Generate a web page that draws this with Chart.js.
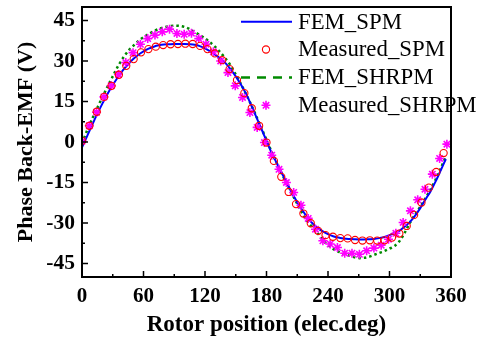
<!DOCTYPE html>
<html>
<head>
<meta charset="utf-8">
<script src="https://cdn.jsdelivr.net/npm/chart.js@4/dist/chart.umd.min.js"></script>
<style>
  html, body { margin: 0; padding: 0; background: #fff; }
  #wrap { width: 485px; height: 341px; position: relative; }
</style>
</head>
<body>
<div id="wrap"><canvas id="c" width="485" height="341"></canvas></div>
<script>
// ---- Data ----
const seriesNames = ['FEM_SPM', 'Measured_SPM', 'FEM_SHRPM', 'Measured_SHRPM'];

const femAngles = [0,5,10,15,20,25,30,35,40,45,50,55,60,65,70,75,80,85,90,95,100,105,110,115,120,125,130,135,140,145,150,155,160,165,170,175,180,185,190,195,200,205,210,215,220,225,230,235,240,245,250,255,260,265,270,275,280,285,290,295,300,305,310,315,320,325,330,335,340,345,350,355];

const femSPM = [-2.0,2.2,6.4,10.5,14.3,17.9,21.1,24.0,26.6,28.8,30.7,32.3,33.6,34.6,35.3,35.8,36.1,36.2,36.3,36.3,36.3,36.2,36.0,35.5,34.7,33.6,32.3,30.9,29.2,26.9,24.3,21.3,17.9,13.7,9.3,4.9,0.4,-4.0,-7.8,-11.6,-15.3,-19.0,-22.3,-25.3,-28.0,-30.2,-31.9,-33.1,-34.1,-34.9,-35.4,-35.7,-35.9,-36.0,-36.1,-36.1,-36.0,-35.9,-35.6,-35.2,-34.5,-33.7,-32.8,-31.3,-29.6,-27.3,-24.5,-21.3,-18.3,-14.6,-10.5,-6.3];

const femSHRPM = [-0.5,4.3,8.6,12.7,16.7,20.6,24.3,28.0,31.1,33.7,35.6,37.4,38.8,40.0,41.0,41.9,42.5,42.9,43.1,43.0,42.6,41.8,40.7,39.6,38.4,36.9,35.2,33.2,30.9,28.3,25.0,21.5,17.8,13.8,9.6,5.2,0.8,-3.6,-7.8,-11.8,-15.6,-19.3,-22.9,-26.4,-29.4,-31.7,-33.8,-36.4,-38.2,-39.6,-40.6,-41.4,-42.0,-42.6,-43.0,-42.9,-42.5,-41.8,-41.1,-40.4,-39.5,-38.5,-36.6,-33.5,-29.9,-26.8,-24.0,-20.9,-17.6,-13.9,-9.8,-5.2];

const measSPMAngles = [0,7.2,14.4,21.6,28.8,36,43.2,50.4,57.6,64.8,72,79.2,86.4,93.6,100.8,108,115.2,122.4,129.6,136.8,144,151.2,158.4,165.6,172.8,180,187.2,194.4,201.6,208.8,216,223.2,230.4,237.6,244.8,252,259.2,266.4,273.6,280.8,288,295.2,302.4,309.6,316.8,324,331.2,338.4,345.6,352.8];

const measSPM = [0.4,6.0,11.2,16.7,20.8,24.9,28.2,30.7,33.2,34.4,35.3,35.9,36.2,36.3,36.4,36.3,35.6,34.4,32.8,30.3,27.0,22.9,18.1,12.5,6.0,-0.2,-7.0,-12.9,-18.5,-23.0,-26.5,-30.1,-32.9,-34.5,-35.1,-35.6,-35.7,-36.3,-36.5,-36.4,-36.5,-36.4,-35.4,-33.9,-31.1,-27.0,-22.4,-16.9,-11.1,-4.1];

const measSHRPMAngles = [0,7.1,14.2,21.4,28.5,35.6,42.7,49.8,57,64.1,71.2,78.3,85.4,92.6,99.7,106.8,113.9,121,128.2,135.3,142.4,149.5,156.6,163.8,170.9,178,185.1,192.2,199.4,206.5,213.6,220.7,227.8,235,242.1,249.2,256.3,263.4,270.6,277.7,284.8,291.9,299,306.2,313.3,320.4,327.5,334.6,341.8,348.9,356];

const measSHRPM = [0.3,6.0,11.0,16.7,20.8,25.0,29.4,33.1,36.2,38.3,39.6,40.8,41.8,40.2,39.9,40.3,38.3,36.2,33.4,30.0,25.7,20.8,16.5,10.9,5.4,-0.2,-4.9,-10.1,-15.0,-18.7,-23.4,-28.3,-32.3,-36.6,-37.8,-39.1,-41.2,-41.2,-41.6,-40.3,-39.3,-38.2,-36.0,-33.8,-29.8,-25.5,-21.4,-17.5,-11.9,-6.1,-0.8];

const xTickValues = [0, 60, 120, 180, 240, 300, 360];
const yTickValues = [-45, -30, -15, 0, 15, 30, 45];
const xMinorValues = [30, 90, 150, 210, 270, 330];
const yMinorValues = [-37.5, -22.5, -7.5, 7.5, 22.5, 37.5];

const xTitle = 'Rotor position (elec.deg)';
const yTitle = 'Phase Back-EMF (V)';

// ---- Helpers ----
const pts = (xs, ys) => xs.map((x, i) => ({ x: x, y: ys[i] }));
const SERIF = '"Liberation Serif", "Times New Roman", serif';

const colors = {
  blue: '#0000ff',
  red: '#ff0000',
  green: '#008a00',
  magenta: '#ff00ff'
};

const frameTicks = {
  id: 'frameTicks',
  afterDatasetsDraw(chart) {
    const { ctx, chartArea: a, scales: { x, y } } = chart;
    ctx.save();
    ctx.strokeStyle = '#000';
    ctx.lineWidth = 1.5;
    ctx.beginPath();
    xTickValues.forEach(v => { const p = x.getPixelForValue(v); ctx.moveTo(p, a.bottom); ctx.lineTo(p, a.bottom - 6); });
    xMinorValues.forEach(v => { const p = x.getPixelForValue(v); ctx.moveTo(p, a.bottom); ctx.lineTo(p, a.bottom - 3); });
    yTickValues.forEach(v => { const p = y.getPixelForValue(v); ctx.moveTo(a.left, p); ctx.lineTo(a.left + 6, p); });
    yMinorValues.forEach(v => { const p = y.getPixelForValue(v); ctx.moveTo(a.left, p); ctx.lineTo(a.left + 3, p); });
    ctx.stroke();
    ctx.lineWidth = 2;
    ctx.strokeRect(a.left, a.top, a.right - a.left, a.bottom - a.top);
    ctx.restore();
  }
};

const customLegend = {
  id: 'customLegend',
  afterDraw(chart) {
    const ctx = chart.ctx;
    const ds = chart.data.datasets;
    const x0 = 241, x1 = 292, xText = 298, mx = 266;
    const rowY = [21.7, 49.5, 77.4, 105.3];
    ctx.save();
    ctx.font = '22.8px ' + SERIF;
    ctx.fillStyle = '#000';
    ctx.textBaseline = 'middle';
    ds.forEach((d, i) => {
      const yy = rowY[i];
      ctx.save();
      ctx.strokeStyle = d.borderColor;
      if (d.showLine !== false) {
        ctx.lineWidth = d.borderWidth;
        ctx.setLineDash(i === 2 ? [9, 7] : []);
        ctx.beginPath(); ctx.moveTo(x0, yy); ctx.lineTo(x1, yy); ctx.stroke();
      } else if (d.pointStyle === 'circle') {
        ctx.lineWidth = d.pointBorderWidth;
        ctx.beginPath(); ctx.arc(mx, yy, d.pointRadius, 0, Math.PI * 2); ctx.stroke();
      } else {
        ctx.lineWidth = d.pointBorderWidth;
        const r = d.pointRadius;
        ctx.beginPath();
        for (let k = 0; k < 4; k++) {
          const ang = k * Math.PI / 4;
          ctx.moveTo(mx - r * Math.cos(ang), yy - r * Math.sin(ang));
          ctx.lineTo(mx + r * Math.cos(ang), yy + r * Math.sin(ang));
        }
        ctx.stroke();
      }
      ctx.restore();
      ctx.fillText(d.label, xText, yy + 1);
    });
    ctx.restore();
  }
};

new Chart(document.getElementById('c'), {
  type: 'line',
  data: {
    datasets: [
      { label: seriesNames[0], data: pts(femAngles, femSPM), borderColor: colors.blue, borderWidth: 2, pointRadius: 0, tension: 0.3, order: 3 },
      { label: seriesNames[1], data: pts(measSPMAngles, measSPM), showLine: false, pointStyle: 'circle', pointRadius: 3.6, pointBorderWidth: 1.1, borderColor: colors.red, pointBorderColor: colors.red, pointBackgroundColor: 'rgba(0,0,0,0)', order: 1 },
      { label: seriesNames[2], data: pts(femAngles, femSHRPM), borderColor: colors.green, borderWidth: 2.5, borderDash: [2.5, 3], pointRadius: 0, tension: 0.3, order: 4 },
      { label: seriesNames[3], data: pts(measSHRPMAngles, measSHRPM), showLine: false, pointStyle: 'star', pointRadius: 4.5, pointBorderWidth: 1.6, borderColor: colors.magenta, pointBorderColor: colors.magenta, pointBackgroundColor: colors.magenta, order: 2 }
    ]
  },
  options: {
    responsive: false,
    animation: false,
    devicePixelRatio: 1,
    layout: { padding: { top: 7, right: 34, left: 0, bottom: 0 } },
    plugins: { legend: { display: false }, tooltip: { enabled: false } },
    scales: {
      x: {
        type: 'linear', min: 0, max: 360,
        grid: { display: false, drawTicks: false },
        border: { display: false },
        afterBuildTicks: s => { s.ticks = xTickValues.map(v => ({ value: v })); },
        afterFit: s => { s.height = 64; s.paddingLeft = 0; s.paddingRight = 0; },
        ticks: { color: '#000', padding: 7, maxRotation: 0, autoSkip: false, font: { family: SERIF, size: 21, weight: 'bold' } },
        title: { display: true, text: xTitle, color: '#000', padding: { top: 0, bottom: 2 }, font: { family: SERIF, size: 23, weight: 'bold' } }
      },
      y: {
        type: 'linear', min: -50, max: 50,
        grid: { display: false, drawTicks: false },
        border: { display: false },
        afterBuildTicks: s => { s.ticks = yTickValues.map(v => ({ value: v })); },
        afterFit: s => { s.width = 82; s.paddingTop = 0; s.paddingBottom = 0; },
        ticks: { color: '#000', padding: 7, autoSkip: false, font: { family: SERIF, size: 21.5, weight: 'bold' } },
        title: { display: true, text: yTitle, color: '#000', padding: { top: 13, bottom: 0 }, font: { family: SERIF, size: 22, weight: 'bold' } }
      }
    }
  },
  plugins: [frameTicks, customLegend]
});
</script>
</body>
</html>
